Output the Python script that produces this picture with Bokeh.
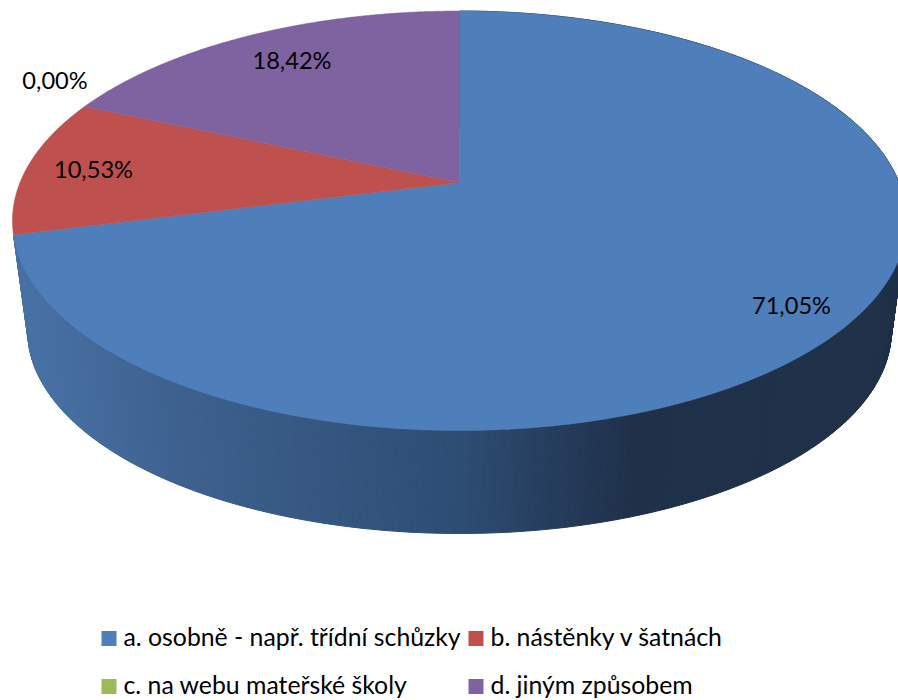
import numpy as np
from bokeh.plotting import figure
from bokeh.models import Range1d
from bokeh.core.properties import value
from bokeh.embed import file_html
from bokeh.resources import INLINE

# ---- data
categories = ["a. osobně - např. třídní schůzky", "b. nástěnky v šatnách",
              "c. na webu mateřské školy", "d. jiným způsobem"]
shares = [71.05, 10.53, 0.00, 18.42]
labels = ["71,05%", "10,53%", "0,00%", "18,42%"]
colors = ["#4E7FBA", "#BE504E", "#9BBB59", "#7F62A0"]

# ---- layout (page pixels)
W, H = 898, 700
APEX_X, APEX_Y = 459, 182
TOP, BOTTOM = 10.5, 430
RX = 447
E = (2 * APEX_Y - TOP - BOTTOM) / (BOTTOM - TOP)
B = APEX_Y - TOP + TOP * E
A = RX * np.sqrt(1 - E ** 2)
ELL_CY = (TOP + BOTTOM) / 2
ELL_RY = (BOTTOM - TOP) / 2
WALL_SCALE = 0.966
WALL_BOTTOM = 533
WALL_CY = WALL_BOTTOM - ELL_RY * WALL_SCALE
label_xy = [(791, 304.5), (93, 168.5), (54.5, 79.5), (291.5, 59.5)]
legend_xy = [(101, 638), (468, 638), (101, 686), (468, 686)]
LEGEND_TEXT_DY = -2
FONT = "Lato"


def project(theta_deg):
    t = np.radians(theta_deg)
    u, v = np.sin(t), -np.cos(t)
    d = 1 + E * v
    return APEX_X + A * u / d, (B * v + APEX_Y) / d


def wall_point(theta_deg):
    x, y = project(theta_deg)
    return APEX_X + (x - APEX_X) * WALL_SCALE, WALL_CY + (y - ELL_CY) * WALL_SCALE


stop_x = [25, 200, 459, 633, 900]
stop_rgb = np.array([(72, 113, 165), (60, 95, 140), (45, 77, 115), (31, 48, 73), (31, 48, 73)])


def wall_color(x):
    c = [np.interp(x, stop_x, stop_rgb[:, i]) for i in range(3)]
    return "#%02x%02x%02x" % tuple(int(round(k)) for k in c)


p = figure(width=W, height=H, x_range=Range1d(0, W), y_range=Range1d(H, 0),
           output_backend="svg", toolbar_location=None, min_border=0)
p.axis.visible = False
p.grid.visible = False
p.outline_line_color = None
p.background_fill_color = "white"
p.border_fill_color = "white"

angles = np.cumsum([0] + shares) / sum(shares) * 360

# side wall of the first slice (visible front part)
steps = np.arange(angles[0], angles[1] + 0.01, 0.5)
wx, wy, wc = [], [], []
for t0, t1 in zip(steps[:-1], steps[1:]):
    x0, y0 = project(t0)
    x1, y1 = project(t1)
    x2, y2 = wall_point(t1)
    x3, y3 = wall_point(t0)
    wx.append([x0, x1, x2, x3])
    wy.append([y0, y1, y2, y3])
    wc.append(wall_color((x0 + x1 + x2 + x3) / 4))
p.patches(wx, wy, fill_color=wc, line_color=wc, line_width=1)

# top faces
for i, col in enumerate(colors):
    if shares[i] <= 0:
        continue
    th = np.linspace(angles[i], angles[i + 1], 240)
    xs, ys = project(th)
    p.patch(np.r_[APEX_X, xs], np.r_[APEX_Y, ys], fill_color=col, line_color=col, line_width=0.5)

# data labels
p.text([q[0] for q in label_xy], [q[1] for q in label_xy], text=labels,
       text_font=value(FONT), text_font_size="23.6px", text_color="#000000",
       text_align="center", text_baseline="middle")

# legend
p.rect([q[0] + 7.5 for q in legend_xy], [q[1] for q in legend_xy], width=15, height=15,
       fill_color=colors, line_color=None)
p.text([q[0] + 22 for q in legend_xy], [q[1] + LEGEND_TEXT_DY for q in legend_xy], text=categories,
       text_font=value(FONT), text_font_size="24.8px", text_color="#000000",
       text_align="left", text_baseline="middle")

open("out.html", "w").write(file_html(p, INLINE))
